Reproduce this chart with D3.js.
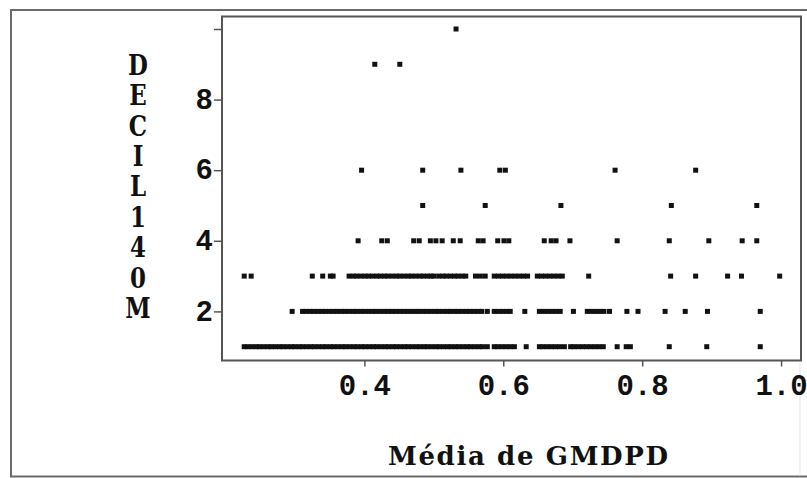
<!DOCTYPE html>
<html>
<head>
<meta charset="utf-8">
<script src="https://cdn.jsdelivr.net/npm/d3@7"></script>
<style>
  html, body { margin: 0; padding: 0; background: #fff; }
  svg { display: block; }
  text { font-weight: bold; fill: #111; }
  .tick text { font-family: "Liberation Mono", "Courier New", monospace; }
  .title { font-family: "DejaVu Serif", "Liberation Serif", serif; }
</style>
</head>
<body>
<svg id="chart" width="807" height="478"></svg>
<script>
// Média de GMDPD by decile (DECIL140M): one array of x values per decile row
const decil1 = [
  0.227,0.232,0.238,0.244,0.249,0.255,0.261,0.266,0.272,0.278,0.283,0.289,0.295,0.300,0.306,0.311,
  0.317,0.323,0.328,0.334,0.340,0.345,0.351,0.356,0.362,0.368,0.373,0.379,0.385,0.390,0.396,0.401,
  0.407,0.413,0.418,0.424,0.430,0.435,0.441,0.446,0.452,0.458,0.463,0.469,0.475,0.480,0.486,0.491,
  0.497,0.503,0.508,0.514,0.520,0.525,0.531,0.536,0.542,0.548,0.553,0.559,0.565,0.570,0.577,
  0.587,0.592,0.598,0.604,0.610,0.616,
  0.633,
  0.652,0.657,0.663,0.669,0.675,0.681,0.688,
  0.697,0.702,0.708,0.714,0.720,0.726,0.732,0.738,0.744,
  0.764,0.777,0.783,0.839,0.893,0.970
];
const decil2 = [
  0.296,
  0.311,0.316,0.322,0.327,0.333,0.339,0.344,0.350,0.356,0.361,0.367,0.372,0.378,0.384,0.389,0.395,
  0.400,0.406,0.412,0.417,0.423,0.429,0.434,0.440,0.445,0.451,0.457,0.462,0.468,0.474,0.479,0.485,
  0.490,0.496,0.502,0.507,0.513,0.519,0.524,0.530,0.535,0.541,0.547,0.552,0.558,0.564,0.569,0.577,
  0.587,0.593,0.599,0.605,0.610,
  0.631,
  0.652,0.658,0.664,0.670,0.676,0.682,
  0.701,
  0.721,0.727,0.733,0.739,0.745,0.753,
  0.778,0.794,0.833,0.862,0.894,0.970
];
const decil3 = [
  0.227,0.237,0.325,0.340,0.351,0.355,
  0.378,0.384,0.389,0.395,0.401,0.406,0.412,0.418,0.423,0.429,0.434,0.440,0.446,0.451,0.457,0.463,
  0.468,0.474,0.480,0.485,0.491,0.496,0.500,
  0.507,0.513,0.518,0.524,0.530,0.535,0.541,0.546,
  0.560,0.567,0.574,
  0.587,0.593,0.599,0.605,0.611,0.617,0.623,0.629,0.635,
  0.649,0.655,0.661,0.667,0.673,0.679,0.685,
  0.723,0.841,0.877,0.923,0.943,0.998
];
const decil4 = [
  0.391,0.425,0.433,0.471,0.479,0.495,0.503,0.512,0.528,0.538,0.564,0.571,
  0.592,0.601,0.608,0.659,0.669,0.676,0.696,0.764,0.839,0.896,0.944,0.965
];
const decil5 = [0.484, 0.574, 0.683, 0.842, 0.965];
const decil6 = [0.396, 0.484, 0.539, 0.595, 0.603, 0.761, 0.877];
const decil9 = [0.415, 0.451];
const decil10 = [0.532];

const deciles = [1, 2, 3, 4, 5, 6, 9, 10];
const seriesByDecile = [decil1, decil2, decil3, decil4, decil5, decil6, decil9, decil10];

const xTicks = [0.4, 0.6, 0.8, 1.0];
const xTickLabels = ["0.4", "0.6", "0.8", "1.0"];
const yTicks = [2, 4, 6, 8, 10];
const yTickLabels = ["2", "4", "6", "8", ""];
const xTitle = "Média de GMDPD";
const yTitle = "DECIL140M";

// Flatten into points
const points = [];
deciles.forEach((d, i) => seriesByDecile[i].forEach(v => points.push({ x: v, y: d })));

const svg = d3.select("#chart");
const plot = { left: 222, right: 801, top: 16.5, bottom: 360.5 };

const x = d3.scaleLinear().domain([0.195, 1.0287]).range([plot.left, plot.right]);
const y = d3.scaleLinear().domain([0.609, 10.354]).range([plot.bottom, plot.top]);

// Outer frame
svg.append("rect")
  .attr("x", 11).attr("y", 10).attr("width", 800).attr("height", 466.5)
  .attr("fill", "none").attr("stroke", "#6a6a6a").attr("stroke-width", 2);
svg.append("line")
  .attr("x1", 800).attr("x2", 800).attr("y1", plot.bottom + 2).attr("y2", 476)
  .attr("stroke", "#e4e4e4").attr("stroke-width", 1);

// Points: small filled squares
const s = 5;
svg.append("g")
  .selectAll("rect")
  .data(points)
  .join("rect")
  .attr("x", d => x(d.x) - s / 2)
  .attr("y", d => y(d.y) - s / 2)
  .attr("width", s)
  .attr("height", s)
  .attr("fill", "#111");

// Plot frame
svg.append("rect")
  .attr("x", plot.left).attr("y", plot.top)
  .attr("width", plot.right - plot.left).attr("height", plot.bottom - plot.top)
  .attr("fill", "none").attr("stroke", "#555").attr("stroke-width", 2);

// Axes
const xAxis = d3.axisBottom(x)
  .tickValues(xTicks)
  .tickFormat((d, i) => xTickLabels[i])
  .tickSize(6).tickPadding(8);
const gx = svg.append("g").attr("transform", `translate(0,${plot.bottom})`).call(xAxis);
gx.select(".domain").remove();
gx.selectAll(".tick line").attr("stroke", "#555").attr("stroke-width", 1.5);
gx.selectAll(".tick text")
  .attr("font-size", 29).attr("dy", "0.72em")
  .attr("font-family", null).attr("fill", null);

const yAxis = d3.axisLeft(y)
  .tickValues(yTicks)
  .tickFormat((d, i) => yTickLabels[i])
  .tickSize(8).tickPadding(1);
const gy = svg.append("g").attr("transform", `translate(${plot.left},0)`).call(yAxis);
gy.select(".domain").remove();
gy.selectAll(".tick line").attr("stroke", "#555").attr("stroke-width", 1.5);
gy.selectAll(".tick text")
  .attr("font-size", 29).attr("dy", "0.3em")
  .attr("font-family", null).attr("fill", null);

// X axis title
svg.append("text")
  .attr("class", "title")
  .attr("x", 528).attr("y", 465)
  .attr("text-anchor", "middle")
  .attr("font-size", 26)
  .attr("textLength", 280)
  .attr("lengthAdjust", "spacing")
  .text(xTitle);

// Y axis title, stacked one character per line
svg.append("g")
  .selectAll("text")
  .data(Array.from(yTitle))
  .join("text")
  .attr("class", "title")
  .attr("transform", (d, i) => `translate(138,${65 + i * 30.4}) scale(0.85,1)`)
  .attr("dy", "0.36em")
  .attr("text-anchor", "middle")
  .attr("font-size", 27)
  .text(d => d);
</script>
</body>
</html>
